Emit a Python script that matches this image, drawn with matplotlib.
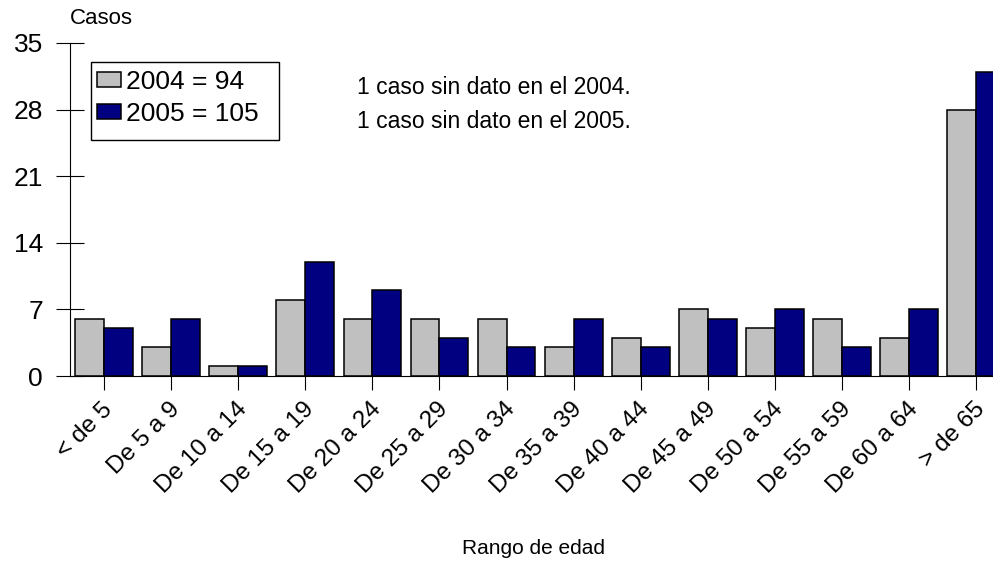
import numpy as np
import matplotlib.pyplot as plt
import matplotlib.transforms as mtransforms
from matplotlib.patches import Patch, Rectangle

plt.rcParams['font.family'] = ['Liberation Sans', 'DejaVu Sans']

# datos
rangos = ['< de 5', 'De 5 a 9', 'De 10 a 14', 'De 15 a 19', 'De 20 a 24', 'De 25 a 29',
          'De 30 a 34', 'De 35 a 39', 'De 40 a 44', 'De 45 a 49', 'De 50 a 54',
          'De 55 a 59', 'De 60 a 64', '> de 65']
casos_2004 = [6, 3, 1, 8, 6, 6, 6, 3, 4, 7, 5, 6, 4, 28]
casos_2005 = [5, 6, 1, 12, 9, 4, 3, 6, 3, 6, 7, 3, 7, 32]
leyenda = ['2004 = 94', '2005 = 105']
y_ticks = [0, 7, 14, 21, 28, 35]

gris = '#C0C0C0'
azul = '#000080'

W, H = 993, 562
fig = plt.figure(figsize=(W / 100, H / 100), dpi=100)
ax = fig.add_axes([70 / W, 1 - 376 / H, 1 - 70 / W, (376 - 43) / H])

x = np.arange(len(rangos))
w = 0.43
ax.bar(x - w / 2, casos_2004, w, color=gris, edgecolor='black', linewidth=1.1)
ax.bar(x + w / 2, casos_2005, w, color=azul, edgecolor='black', linewidth=1.1)

ax.set_xlim(-0.507, 13.25)
ax.set_ylim(0, 35)
ax.set_yticks(y_ticks)
ax.tick_params(axis='y', direction='inout', length=20, width=0.8, labelsize=19, pad=9.5)
ax.set_xticks(x)
ax.set_xticklabels(rangos, rotation=45, ha='right', va='top', fontsize=17.5)
ax.tick_params(axis='x', direction='out', length=10, width=0.8, pad=6)

# desplazar etiquetas del eje x
offset = mtransforms.ScaledTranslation(13 / 100, 0, fig.dpi_scale_trans)
for lbl in ax.get_xticklabels():
    lbl.set_transform(lbl.get_transform() + offset)

for s in ['top', 'right']:
    ax.spines[s].set_visible(False)
ax.spines['left'].set_linewidth(0.8)
ax.spines['bottom'].set_linewidth(0.8)

fig.text(101 / W, 1 - 18 / H, 'Casos', fontsize=16, ha='center', va='center')
fig.text(533 / W, 1 - 548 / H, 'Rango de edad', fontsize=15, ha='center', va='center')

fig.text(357 / W, 1 - 87 / H, '1 caso sin dato en el 2004.', fontsize=16.5,
         ha='left', va='center')
fig.text(357 / W, 1 - 121 / H, '1 caso sin dato en el 2005.', fontsize=16.5,
         ha='left', va='center')

# leyenda con marco propio
handles = [Patch(facecolor=gris, edgecolor='black', linewidth=1.1),
           Patch(facecolor=azul, edgecolor='black', linewidth=1.1)]
leg = ax.legend(handles, leyenda, loc='upper left', bbox_to_anchor=(97 / W, 1 - 70 / H),
                bbox_transform=fig.transFigure, fontsize=19, frameon=False,
                handlelength=0.91, handleheight=0.5, handletextpad=0.2,
                borderpad=0, labelspacing=0.3, borderaxespad=0)
fig.patches.append(Rectangle((91 / W, 1 - 140 / H), 188 / W, 78 / H, transform=fig.transFigure,
                             facecolor='none', edgecolor='black', linewidth=1.0))

fig.savefig('out.png', dpi=100)
